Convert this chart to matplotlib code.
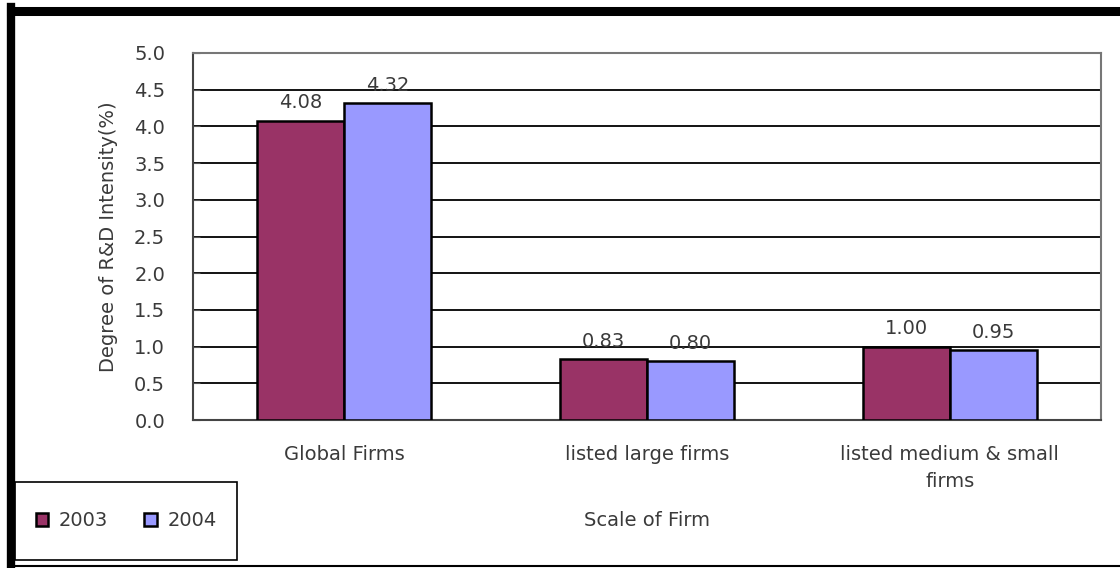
import numpy as np
import matplotlib
matplotlib.use("Agg")
import matplotlib.pyplot as plt
from matplotlib.lines import Line2D
from matplotlib.patches import Rectangle

categories = ['Global Firms', 'listed large firms', 'listed medium & small\nfirms']
years = ['2003', '2004']
vals_2003 = [4.08, 0.83, 1.00]
vals_2004 = [4.32, 0.80, 0.95]
labels_2003 = ['4.08', '0.83', '1.00']
labels_2004 = ['4.32', '0.80', '0.95']

plt.rcParams['font.family'] = ['DejaVu Sans']
txt = '#3a3a3a'
fs = 14

fig = plt.figure(figsize=(11.2, 5.68), dpi=100)
W, H = 1120, 568
ax = fig.add_axes([193 / W, 1 - 420 / H, 908 / W, 367 / H])

x = np.arange(len(categories))
w = 0.287
b1 = ax.bar(x - w / 2, vals_2003, width=w, color='#993366', edgecolor='black',
            linewidth=1.8, label=years[0], zorder=3)
b2 = ax.bar(x + w / 2, vals_2004, width=w, color='#9999FF', edgecolor='black',
            linewidth=1.8, label=years[1], zorder=3)
for bars, labs in ((b1, labels_2003), (b2, labels_2004)):
    for r, s in zip(bars, labs):
        ax.annotate(s, (r.get_x() + r.get_width() / 2, r.get_height()),
                    xytext=(0, 6), textcoords='offset points', ha='center',
                    va='bottom', fontsize=fs, color=txt)

ax.set_xlim(-0.5, 2.5)
ax.set_ylim(0, 5.0)
ax.set_yticks(np.arange(0, 5.01, 0.5))
ax.set_yticklabels(['%.1f' % v for v in np.arange(0, 5.01, 0.5)])
ax.yaxis.grid(True, color='black', linewidth=1.3, zorder=0)
ax.set_axisbelow(True)
ax.set_xticks(x)
ax.set_xticklabels(categories, fontsize=fs, color=txt, linespacing=1.55)
ax.tick_params(axis='x', length=0, pad=18)
ax.tick_params(axis='y', direction='in', length=5, pad=20, labelsize=fs,
               labelcolor=txt, color='#555555')
for s in ax.spines.values():
    s.set_color('#777777')
    s.set_linewidth(1.5)
ax.spines['left'].set_color('#444444')
ax.spines['bottom'].set_color('#444444')

ax.set_ylabel('Degree of R&D Intensity(%)', fontsize=fs, color=txt)
ax.yaxis.set_label_coords((118 - 193) / 908, 0.5)
ax.set_xlabel('Scale of Firm', fontsize=fs, color=txt)
ax.xaxis.set_label_coords(0.5, (420 - 511) / 367)

leg = fig.legend(handles=[b1, b2], labels=years, loc='center',
                 bbox_to_anchor=(126 / W, 1 - 521 / H), ncol=2, frameon=False,
                 fontsize=fs, handlelength=0.62, handleheight=0.62,
                 handletextpad=0.55, columnspacing=1.9, borderpad=0,
                 borderaxespad=0)
for t in leg.get_texts():
    t.set_color(txt)
# legend box
fig.add_artist(Rectangle((15 / W, 1 - 560 / H), 222 / W, 78 / H, fill=False,
                         edgecolor='black', linewidth=1.2))

# outer frame of the picture
fig.add_artist(Line2D([11 / W, 1], [1 - 10.5 / H, 1 - 10.5 / H], color='black', linewidth=6.5))
fig.add_artist(Line2D([11 / W, 11 / W], [0, 1 - 7 / H], color='black', linewidth=6))
fig.add_artist(Line2D([11 / W, 1], [1 - 566 / H, 1 - 566 / H], color='black', linewidth=1.5))

fig.savefig('out.png', dpi=100)
